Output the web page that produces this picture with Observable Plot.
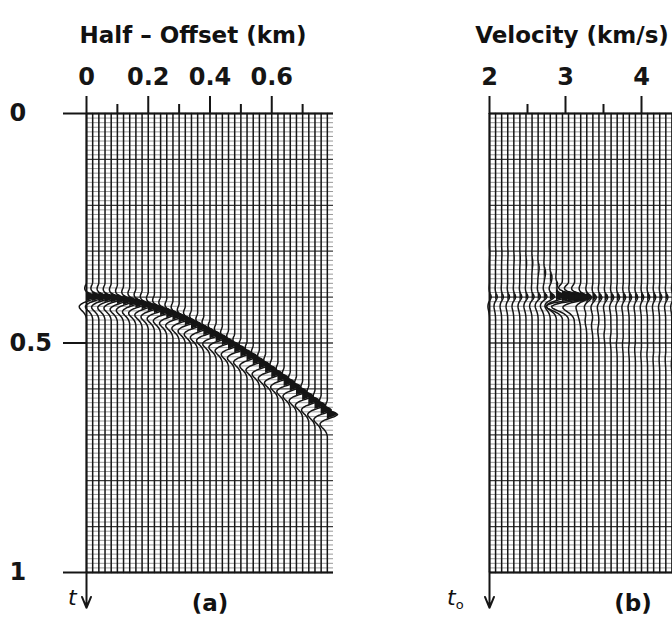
<!DOCTYPE html>
<html>
<head>
<meta charset="utf-8">
<script src="https://cdn.jsdelivr.net/npm/d3@7"></script>
<script src="https://cdn.jsdelivr.net/npm/@observablehq/plot@0.6"></script>
<style>
  body { margin: 0; background: #fff; }
  #wrap { position: relative; width: 672px; height: 625px; overflow: hidden; background: #fff; font-family: "DejaVu Sans", sans-serif; color: #111; }
  .panel { position: absolute; top: 0; }
  .lbl { position: absolute; white-space: nowrap; line-height: 1; transform: translateX(-50%); font-weight: bold; }
  .it { position: absolute; white-space: nowrap; line-height: 1; font-style: italic; font-size: 22px; }
  .it sub { font-size: 13px; font-style: normal; vertical-align: -4px; }
</style>
</head>
<body>
<div id="wrap">
  <div id="pa" class="panel" style="left:0px;width:420px;"></div>
  <div id="pb" class="panel" style="left:420px;width:330px;"></div>
  <div class="lbl" style="left:193px;top:24px;font-size:23px;">Half – Offset (km)</div>
  <div class="lbl" style="left:572px;top:24px;font-size:23px;">Velocity (km/s)</div>
  <div class="lbl" style="left:210px;top:592px;font-size:23px;">(a)</div>
  <div class="lbl" style="left:633px;top:592px;font-size:23px;">(b)</div>
  <div class="it" style="left:68px;top:587px;">t</div>
  <div class="it" style="left:447px;top:587px;">t<sub>o</sub></div>
</div>
<script>
// ---------- data ----------
// (a) CMP gather: half-offset of each trace (km) and reflection time on it (s)
const offsetsA = [0.00,0.02,0.04,0.06,0.08,0.10,0.12,0.14,0.16,0.18,
                  0.20,0.22,0.24,0.26,0.28,0.30,0.32,0.34,0.36,0.38,
                  0.40,0.42,0.44,0.46,0.48,0.50,0.52,0.54,0.56,0.58,
                  0.60,0.62,0.64,0.66,0.68,0.70,0.72,0.74,0.76,0.78];
const arrivalA = [0.400,0.400,0.401,0.402,0.403,0.406,0.408,0.411,0.414,0.418,
                  0.422,0.426,0.431,0.436,0.441,0.447,0.453,0.460,0.467,0.474,
                  0.481,0.488,0.496,0.504,0.512,0.521,0.529,0.538,0.547,0.556,
                  0.566,0.575,0.585,0.595,0.605,0.615,0.625,0.635,0.646,0.656];
const ampA = [1.0,1.0,1.0,1.0,1.0,1.0,1.0,1.0,1.0,1.0,
              1.0,1.0,1.0,1.0,1.0,1.0,1.0,1.0,1.0,1.0,
              1.0,1.0,1.0,1.0,1.0,1.0,1.0,1.0,1.0,1.0,
              1.0,1.0,1.0,1.0,1.0,1.0,1.0,1.0,1.0,1.0];

// (b) velocity panel: trial velocity of each trace (km/s)
const velocitiesB = [2.00,2.08,2.16,2.24,2.32,2.40,2.48,2.56,2.64,2.72,
                     2.80,2.88,2.96,3.04,3.12,3.20,3.28,3.36,3.44,3.52,
                     3.60,3.68,3.76,3.84,3.92,4.00,4.08,4.16,4.24,4.32,
                     4.40,4.48,4.56,4.64,4.72,4.80,4.88,4.96,5.04,5.12,5.20];
const eventT0B = 0.40;
const ampB = [0.20,0.20,0.20,0.21,0.22,0.23,0.24,0.26,0.30,0.38,
              0.58,1.20,2.20,2.45,1.80,0.85,0.45,0.32,0.27,0.25,
              0.24,0.23,0.22,0.21,0.21,0.20,0.20,0.19,0.19,0.19,
              0.18,0.18,0.18,0.18,0.17,0.17,0.17,0.17,0.17,0.17,0.17];
const smearAmpB = [0.30,0.30,0.32,0.34,0.36,0.40,0.50,0.65,0.80,0.95,
                   1.00,0.85,0.45,0.20,0.35,0.55,0.60,0.60,0.60,0.60,
                   0.60,0.60,0.60,0.60,0.60,0.60,0.60,0.60,0.60,0.60,
                   0.60,0.60,0.60,0.60,0.60,0.60,0.60,0.60,0.60,0.60,0.60];
const smearEndB = [0.30,0.30,0.30,0.30,0.31,0.31,0.32,0.32,0.33,0.34,
                   0.35,0.37,0.39,0.405,0.42,0.43,0.44,0.45,0.46,0.47,
                   0.48,0.49,0.49,0.50,0.50,0.51,0.51,0.52,0.52,0.52,
                   0.53,0.53,0.53,0.54,0.54,0.54,0.54,0.55,0.55,0.55,0.55];

// wavelet shape (time from arrival in s, relative amplitude)
const waveDt  = [-0.032,-0.028,-0.024,-0.020,-0.016,-0.012,-0.008,-0.004,0,0.004,0.008,0.012,0.016,0.020,0.024,0.028,0.032,0.036,0.040,0.044,0.048];
const waveAmp = [0,-0.05,-0.13,-0.18,-0.15,-0.02,0.32,0.80,1.00,0.74,0.22,-0.28,-0.58,-0.72,-0.68,-0.52,-0.34,-0.19,-0.09,-0.03,0];

// axes
const yTicks = [0, 0.5, 1];
const xMajorA = [0, 0.2, 0.4, 0.6];
const xMinorA = [0.1, 0.3, 0.5, 0.7];
const xMajorB = [2, 3, 4];
const xMinorB = [2.5, 3.5, 4.5];
const xDomainA = [0, 0.8];
const xDomainB = [2, 5.25];
const yDomain = [0, 1];

// ---------- rendering ----------
const wave = d3.scaleLinear().domain(waveDt).range(waveAmp).clamp(true);
const timeMinor = d3.range(0, 101).map(i => i / 100).filter(t => Math.round(t * 100) % 10 !== 0);
const timeMajor = d3.range(0, 11).map(i => i / 10);
const FONT = "'DejaVu Sans', sans-serif";
const INK = "#151515";

const gainA = 0.033;   // km per unit amplitude
const rowsA = [];
offsetsA.forEach((base, i) => {
  const te = arrivalA[i];
  const ts = [0, ...d3.range(te - 0.036, te + 0.052, 0.0015), 1];
  for (const t of ts) {
    const x = base + gainA * ampA[i] * wave(t - te);
    rowsA.push({trace: i, t, base, x, pos: Math.max(base, x)});
  }
});

const gainB = 0.118;   // km/s per unit amplitude
const rowsB = [];
velocitiesB.forEach((base, k) => {
  const ts = [0, ...d3.range(0.24, 0.62, 0.0015), 1];
  const us = d3.range(0, 11).map(j => eventT0B + (smearEndB[k] - eventT0B) * j / 10);
  for (const t of ts) {
    const sm = d3.mean(us, u => wave(t - u));
    const d = ampB[k] * wave(t - eventT0B) + smearAmpB[k] * sm;
    const x = base + gainB * d;
    rowsB.push({trace: k, t, base, x, pos: Math.max(base, x)});
  }
});

function panel({rows, xDomain, width, marginLeft, marginRight, major, minor, withY}) {
  const x1 = xDomain[0], x2 = xDomain[1];
  const marks = [
    Plot.ruleY(timeMinor, {x1, x2, stroke: "#8c8c8c", strokeWidth: 0.9}),
    Plot.ruleY(timeMajor, {x1, x2, stroke: "#3a3a3a", strokeWidth: 1.3}),
    Plot.areaX(rows, {y: "t", x1: "base", x2: "pos", z: "trace", fill: INK}),
    Plot.line(rows, {x: "x", y: "t", z: "trace", stroke: INK, strokeWidth: 1.5}),
    Plot.ruleY([yDomain[0], yDomain[1]], {x1, x2, stroke: INK, strokeWidth: 2}),
    Plot.ruleX([x1], {y1: yDomain[0], y2: yDomain[1], stroke: INK, strokeWidth: 2}),
    Plot.arrow([x1], {x1: d => d, x2: d => d, y1: yDomain[1], y2: yDomain[1] + 0.077,
                      stroke: INK, strokeWidth: 2, headLength: 9, headAngle: 45}),
    Plot.axisX({anchor: "top", ticks: major, tickSize: 18, tickPadding: 11, strokeWidth: 2,
                stroke: INK, fill: INK, fontSize: 24, fontWeight: "bold", fontFamily: FONT,
                tickFormat: d => String(d), label: null}),
    Plot.axisX({anchor: "top", ticks: minor, tickSize: 10, strokeWidth: 2, stroke: INK,
                tickFormat: () => "", label: null})
  ];
  if (withY) {
    marks.push(Plot.axisY({ticks: yTicks, tickSize: 23, tickPadding: 54, strokeWidth: 2, stroke: INK, fill: INK,
                fontSize: 24, fontWeight: "bold", fontFamily: FONT, textAnchor: "start",
                tickFormat: d => String(d), label: null}));
  } else {
    marks.push(Plot.axisY({ticks: [], label: null}));
  }
  return Plot.plot({
    width, height: 625,
    marginLeft, marginRight, marginTop: 113, marginBottom: 53,
    x: {domain: xDomain, label: null},
    y: {domain: yDomain, reverse: true, label: null},
    style: {background: "transparent", overflow: "visible", maxWidth: "none", fontFamily: FONT},
    marks
  });
}

document.getElementById("pa").appendChild(panel({
  rows: rowsA, xDomain: xDomainA, width: 420, marginLeft: 86, marginRight: 87,
  major: xMajorA, minor: xMinorA, withY: true
}));
document.getElementById("pb").appendChild(panel({
  rows: rowsB, xDomain: xDomainB, width: 330, marginLeft: 69, marginRight: 14,
  major: xMajorB, minor: xMinorB, withY: false
}));
</script>
</body>
</html>
